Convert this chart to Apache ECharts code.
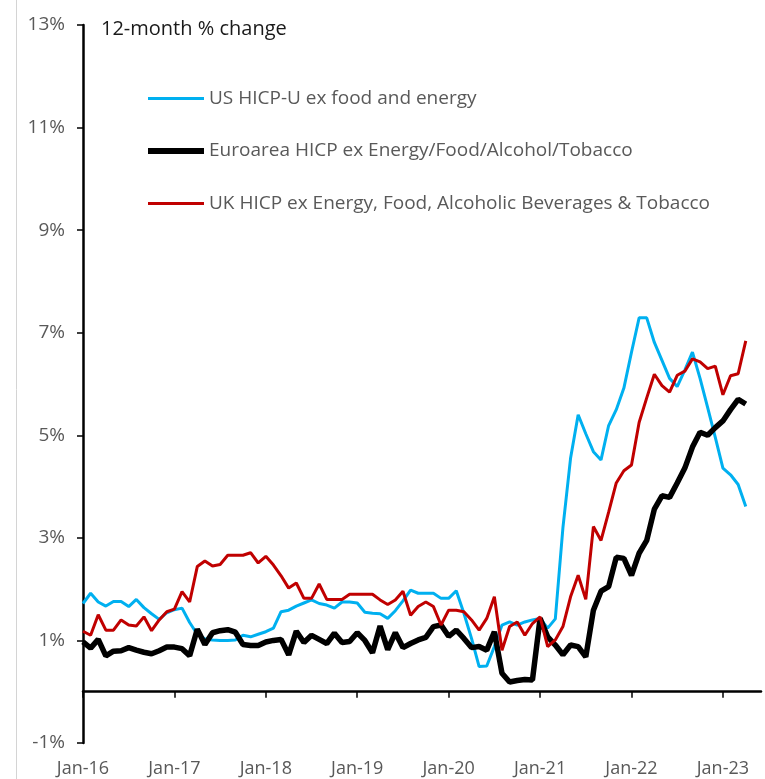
<!DOCTYPE html>
<html>
<head>
<meta charset="utf-8">
<script src="https://cdn.jsdelivr.net/npm/echarts@6/dist/echarts.min.js"></script>
<style>
	html, body { margin: 0; padding: 0; background: #fff; }
	#chart { width: 765px; height: 779px; }
</style>
</head>
<body>
<div id="chart"></div>
<script>
var monthNames = ['Jan', 'Feb', 'Mar', 'Apr', 'May', 'Jun', 'Jul', 'Aug', 'Sep', 'Oct', 'Nov', 'Dec'];
var firstYear = 2016;
var monthCount = 90; // Jan-16 .. Jun-23, axis runs a little past the data

var seriesNames = [
	'US HICP-U ex food and energy',
	'Euroarea HICP ex Energy/Food/Alcohol/Tobacco',
	'UK HICP ex Energy, Food, Alcoholic Beverages & Tobacco'
];

// 12-month % change, Jan-16 .. Apr-23
var usCore = [
	1.72, 1.92, 1.75, 1.67, 1.76, 1.76, 1.66, 1.80, 1.64, 1.52, 1.41, 1.54,
	1.60, 1.63, 1.35, 1.12, 1.03, 1.01, 1.00, 1.00, 1.01, 1.10, 1.07, 1.12,
	1.17, 1.24, 1.56, 1.59, 1.67, 1.73, 1.79, 1.72, 1.69, 1.63, 1.75, 1.75,
	1.73, 1.55, 1.53, 1.52, 1.43, 1.58, 1.77, 1.98, 1.92, 1.92, 1.92, 1.82,
	1.82, 1.97, 1.53, 1.04, 0.49, 0.50, 0.88, 1.30, 1.36, 1.30, 1.36, 1.40,
	1.43, 1.24, 1.42, 3.20, 4.55, 5.40, 5.03, 4.68, 4.52, 5.19, 5.50, 5.92,
	6.62, 7.29, 7.29, 6.81, 6.46, 6.11, 5.95, 6.27, 6.62, 6.11, 5.54, 4.96,
	4.36, 4.23, 4.04, 3.61
];
var euroCore = [
	0.97, 0.85, 1.02, 0.70, 0.79, 0.80, 0.86, 0.81, 0.77, 0.74, 0.80, 0.87,
	0.87, 0.84, 0.70, 1.22, 0.92, 1.15, 1.19, 1.21, 1.16, 0.92, 0.90, 0.90,
	0.97, 1.00, 1.02, 0.72, 1.18, 0.96, 1.10, 1.02, 0.94, 1.14, 0.96, 0.98,
	1.15, 1.00, 0.76, 1.28, 0.82, 1.15, 0.86, 0.94, 1.01, 1.06, 1.27, 1.30,
	1.08, 1.20, 1.04, 0.86, 0.88, 0.81, 1.17, 0.36, 0.19, 0.22, 0.24, 0.23,
	1.43, 1.07, 0.91, 0.72, 0.91, 0.88, 0.68, 1.59, 1.96, 2.05, 2.62, 2.60,
	2.27, 2.70, 2.95, 3.56, 3.82, 3.79, 4.07, 4.36, 4.77, 5.06, 5.00, 5.15,
	5.28, 5.50, 5.70, 5.61
];
var ukCore = [
	1.18, 1.10, 1.50, 1.20, 1.20, 1.40, 1.30, 1.28, 1.46, 1.19, 1.40, 1.56,
	1.61, 1.95, 1.75, 2.44, 2.55, 2.45, 2.48, 2.66, 2.66, 2.66, 2.71, 2.51,
	2.64, 2.47, 2.26, 2.02, 2.12, 1.82, 1.82, 2.10, 1.80, 1.80, 1.80, 1.90,
	1.90, 1.90, 1.90, 1.79, 1.70, 1.79, 1.96, 1.49, 1.66, 1.75, 1.66, 1.30,
	1.59, 1.59, 1.56, 1.40, 1.20, 1.43, 1.85, 0.81, 1.27, 1.36, 1.10, 1.33,
	1.46, 0.88, 1.01, 1.27, 1.85, 2.27, 1.80, 3.22, 2.95, 3.50, 4.07, 4.31,
	4.42, 5.25, 5.73, 6.19, 5.97, 5.84, 6.17, 6.25, 6.49, 6.43, 6.30, 6.35,
	5.79, 6.16, 6.20, 6.84
];

var months = [];
for (var i = 0; i < monthCount; i++) {
	var yy = String((firstYear + Math.floor(i / 12)) % 100);
	months.push(monthNames[i % 12] + '-' + yy);
}

// legend swatches: a bar of the given thickness inside a 56x14 box
function swatch(thickness) {
	var top = (14 - thickness) / 2;
	return 'path://M0,0L0,0M0,' + top + 'H56V' + (top + thickness) + 'H0ZM56,14L56,14';
}

window.onload = function () {
	"use strict";
	var chart = echarts.init(document.getElementById('chart'));
	var font = 'Open Sans';
	var grey = '#595959';

	function isJan(index, value) {
		return months[index].indexOf('Jan') === 0;
	}

	var option = {
		animation: false,
		backgroundColor: '#fff',
		title: {
			text: '12-month % change',
			left: 96,
			top: 14,
			textStyle: {
				fontFamily: font,
				fontSize: 20,
				fontWeight: 'normal',
				color: '#1a1a1a'
			}
		},
		legend: {
			orient: 'vertical',
			left: 143,
			top: 84,
			itemWidth: 56,
			itemHeight: 14,
			itemGap: 33.5,
			symbolKeepAspect: false,
			itemStyle: { borderWidth: 0 },
			data: [
				{ name: seriesNames[0], icon: swatch(3) },
				{ name: seriesNames[1], icon: swatch(6) },
				{ name: seriesNames[2], icon: swatch(3) }
			],
			textStyle: {
				fontFamily: font,
				fontSize: 19,
				color: grey
			}
		},
		grid: {
			left: 83,
			right: 4,
			top: 25,
			bottom: 36,
			outerBounds: { left: -200, right: -200, top: -200, bottom: -200 }
		},
		xAxis: {
			type: 'category',
			data: months,
			boundaryGap: false,
			axisLine: {
				onZero: true,
				lineStyle: { color: '#000', width: 2.5 }
			},
			axisTick: {
				interval: isJan,
				length: 6,
				lineStyle: { color: '#000', width: 1.5 }
			},
			axisLabel: {
				interval: isJan,
				margin: 17,
				fontFamily: font,
				fontSize: 18,
				lineHeight: 18,
				color: grey
			},
			splitLine: { show: false }
		},
		yAxis: {
			type: 'value',
			min: -1,
			max: 13,
			interval: 2,
			axisLine: {
				show: true,
				lineStyle: { color: '#000', width: 2.5 }
			},
			axisTick: {
				show: true,
				length: 6,
				lineStyle: { color: '#000', width: 1.5 }
			},
			axisLabel: {
				formatter: '{value}%',
				margin: 18,
				fontFamily: font,
				fontSize: 19,
				color: grey
			},
			splitLine: { show: false }
		},
		graphic: [{
			type: 'line',
			shape: { x1: 16.5, y1: 0, x2: 16.5, y2: 779 },
			style: { stroke: '#d4d4d4', lineWidth: 1 },
			silent: true
		}],
		series: [{
			name: seriesNames[0],
			type: 'line',
			data: usCore,
			showSymbol: false,
			symbol: 'none',
			color: '#00b0f0',
			lineStyle: { color: '#00b0f0', width: 3 }
		}, {
			name: seriesNames[1],
			type: 'line',
			data: euroCore,
			showSymbol: false,
			symbol: 'none',
			color: '#000000',
			lineStyle: { color: '#000000', width: 5.5 }
		}, {
			name: seriesNames[2],
			type: 'line',
			data: ukCore,
			showSymbol: false,
			symbol: 'none',
			color: '#c00000',
			lineStyle: { color: '#c00000', width: 3 }
		}]
	};

	chart.setOption(option);
};
</script>
</body>
</html>
